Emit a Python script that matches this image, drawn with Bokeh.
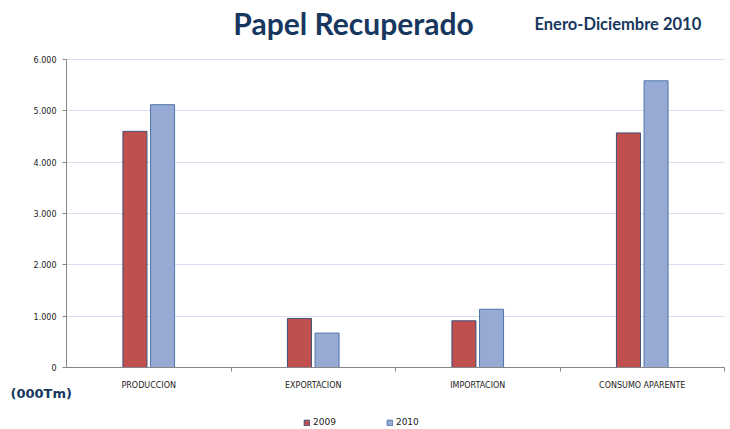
from bokeh.plotting import figure
from bokeh.models import (ColumnDataSource, Range1d, FixedTicker, Legend, LegendItem, Label)
from bokeh.transform import dodge
from bokeh.embed import file_html
from bokeh.resources import INLINE

# ---- data ----
categories = ["PRODUCCION", "EXPORTACION", "IMPORTACION", "CONSUMO APARENTE"]
v2009 = [4600, 955, 910, 4570]
v2010 = [5120, 670, 1135, 5585]
series_names = ["2009", "2010"]
y_ticks = [0, 1000, 2000, 3000, 4000, 5000, 6000]
y_tick_labels = ["0", "1.000", "2.000", "3.000", "4.000", "5.000", "6.000"]
title_text = "Papel Recuperado"
subtitle_text = "Enero-Diciembre 2010"
unit_text = "(000Tm)"

NAVY = "#17375E"
W, H = 730, 429
# plot area (axes box) in canvas pixels
AX_L, AX_R, AX_T, AX_B = 66, 724, 59, 367
YMAX = 6000
n = len(categories)
xs = n / (AX_R - AX_L)          # data units per pixel (x)
ys = YMAX / (AX_B - AX_T)       # data units per pixel (y)

centers = [i + 0.5 for i in range(n)]
boundaries = [i + 1 for i in range(n)]
src = ColumnDataSource(dict(x=centers, a=v2009, b=v2010))

p = figure(width=W, height=H, output_backend="svg", toolbar_location=None,
           x_range=Range1d(-AX_L * xs, n + (W - AX_R) * xs),
           y_range=Range1d(-(H - AX_B) * ys, YMAX + AX_T * ys),
           min_border_left=0, min_border_right=0, min_border_top=0, min_border_bottom=0)
p.outline_line_color = None

r1 = p.vbar(x=dodge("x", -0.084, range=p.x_range), top="a", width=0.146,
            source=src, fill_color="#C0504D", line_color="#3F4F7C", line_width=1)
r2 = p.vbar(x=dodge("x", 0.084, range=p.x_range), top="b", width=0.146,
            source=src, fill_color="#96AAD4", line_color="#4F74AA", line_width=1)

p.xgrid.grid_line_color = None
p.ygrid.grid_line_color = "#D6E0F0"
p.ygrid.ticker = FixedTicker(ticks=y_ticks)
p.ygrid.cross_bounds = (0, n)
p.ygrid.level = "underlay"

ya = p.yaxis[0]
ya.fixed_location = 0
ya.bounds = (0, YMAX)
ya.ticker = FixedTicker(ticks=y_ticks)
ya.major_label_overrides = {t: l for t, l in zip(y_ticks, y_tick_labels)}
ya.axis_line_color = "#868686"
ya.major_tick_line_color = "#868686"
ya.major_tick_out = 4
ya.major_tick_in = 0
ya.minor_tick_line_color = None
ya.major_label_standoff = 6
ya.major_label_text_font = "DejaVu Sans"
ya.major_label_text_font_size = "8px"
ya.major_label_text_color = "#222222"

xa = p.xaxis[0]
xa.fixed_location = 0
xa.bounds = (0, n)
xa.ticker = FixedTicker(ticks=centers, minor_ticks=boundaries)
xa.major_label_overrides = {c: nm for c, nm in zip(centers, categories)}
xa.axis_line_color = "#868686"
xa.major_tick_line_color = None
xa.major_tick_out = 0
xa.major_tick_in = 0
xa.minor_tick_line_color = "#868686"
xa.minor_tick_out = 4
xa.minor_tick_in = 0
xa.major_label_standoff = 9
xa.major_label_text_font = "DejaVu Sans"
xa.major_label_text_font_size = "8px"
xa.major_label_text_color = "#222222"

# texts (screen units from the bottom-left of the canvas-wide frame)
p.add_layout(Label(x=353, y=H - 22, x_units="screen", y_units="screen", text=title_text,
                   text_font="Lato", text_font_style="bold", text_font_size="30px",
                   text_color=NAVY, text_align="center", text_baseline="alphabetic"))
p.add_layout(Label(x=534, y=H - 23.5, x_units="screen", y_units="screen", text=subtitle_text,
                   text_font="Lato", text_font_style="bold", text_font_size="16.5px",
                   text_color=NAVY, text_align="left", text_baseline="alphabetic"))
p.add_layout(Label(x=10, y=H - 392.5, x_units="screen", y_units="screen", text=unit_text,
                   text_font="DejaVu Sans", text_font_style="bold", text_font_size="13px",
                   text_color=NAVY, text_align="left", text_baseline="alphabetic"))

legend = Legend(items=[LegendItem(label=series_names[0], renderers=[r1]),
                       LegendItem(label=series_names[1], renderers=[r2])],
                location=(303, 2), orientation="horizontal",
                glyph_width=7, glyph_height=7, label_standoff=3, spacing=50,
                padding=0, margin=0, border_line_color=None,
                background_fill_alpha=0, label_text_font="DejaVu Sans",
                label_text_font_size="9px", label_text_color="#222222",
                label_height=9)
p.add_layout(legend, "center")

open("out.html", "w").write(file_html(p, INLINE))
